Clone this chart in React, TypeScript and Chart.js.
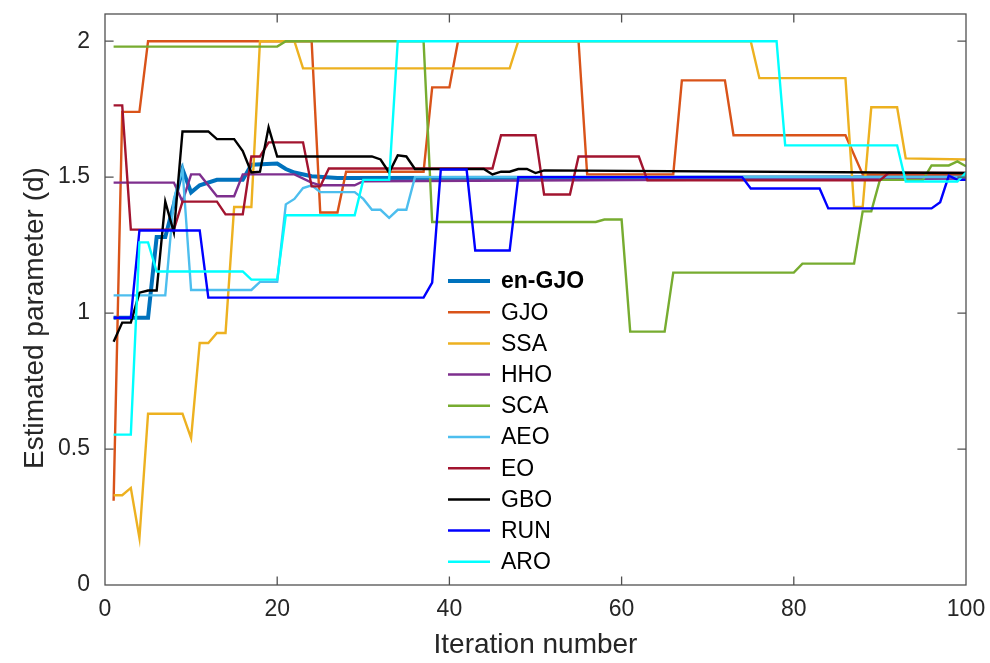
import React, { useEffect, useRef } from "react";
import { Chart, registerables } from "chart.js";

Chart.register(...registerables);

const iterTicks = [0, 20, 40, 60, 80, 100];
const paramTicks = [0, 0.5, 1, 1.5, 2];
const yTitle = "Estimated parameter (d)";
const xTitle = "Iteration number";

const seriesNames = ["en-GJO", "GJO", "SSA", "HHO", "SCA", "AEO", "EO", "GBO", "RUN", "ARO"];
const seriesColors = ["#0072BD", "#D95319", "#EDB120", "#7E2F8E", "#77AC30", "#4DBEEE", "#A2142F", "#000000", "#0000FF", "#00FFFF"];

// vertices (iteration, value) of each convergence curve
const enGjoX = [1, 5, 6, 7, 8, 9, 10, 11, 13, 16, 17, 20, 21, 22, 24, 27, 100];
const enGjoY = [0.983, 0.983, 1.28, 1.28, 1.4, 1.53, 1.444, 1.47, 1.49, 1.49, 1.546, 1.55, 1.53, 1.517, 1.503, 1.497, 1.5];

const gjoX = [1, 2, 4, 5, 24, 25, 27, 28, 37, 38, 40, 41, 55, 56, 66, 67, 72, 73, 86, 88, 100];
const gjoY = [0.31, 1.74, 1.74, 2.0, 2.0, 1.37, 1.37, 1.52, 1.52, 1.83, 1.83, 2.0, 2.0, 1.51, 1.51, 1.856, 1.856, 1.654, 1.654, 1.51, 1.51];

const ssaX = [1, 2, 3, 4, 5, 9, 10, 11, 12, 13, 14, 15, 17, 18, 22, 23, 47, 48, 75, 76, 86, 87, 88, 89, 92, 93, 100];
const ssaY = [0.33, 0.33, 0.357, 0.173, 0.63, 0.63, 0.54, 0.89, 0.89, 0.927, 0.927, 1.39, 1.39, 2.0, 2.0, 1.9, 1.9, 2.0, 2.0, 1.864, 1.864, 1.39, 1.39, 1.757, 1.757, 1.569, 1.565];

const hhoX = [1, 8, 9, 10, 11, 13, 15, 16, 22, 24, 25, 29, 30, 100];
const hhoY = [1.48, 1.48, 1.41, 1.51, 1.51, 1.43, 1.43, 1.51, 1.51, 1.48, 1.47, 1.47, 1.485, 1.495];

const scaX = [1, 20, 21, 37, 38, 57, 58, 60, 61, 65, 66, 80, 81, 87, 88, 89, 90, 95, 96, 98, 99, 100];
const scaY = [1.98, 1.98, 2.0, 2.0, 1.335, 1.335, 1.344, 1.344, 0.932, 0.932, 1.149, 1.149, 1.182, 1.182, 1.374, 1.374, 1.49, 1.49, 1.543, 1.543, 1.558, 1.54];

const aeoX = [1, 7, 8, 9, 10, 17, 18, 20, 21, 22, 23, 24, 25, 29, 30, 31, 32, 33, 34, 35, 36, 100];
const aeoY = [1.065, 1.065, 1.42, 1.53, 1.085, 1.085, 1.115, 1.115, 1.4, 1.42, 1.46, 1.47, 1.445, 1.445, 1.42, 1.38, 1.38, 1.35, 1.38, 1.38, 1.5, 1.5];

const eoX = [1, 2, 3, 8, 9, 13, 14, 16, 17, 18, 19, 23, 24, 25, 26, 45, 46, 50, 51, 54, 55, 62, 63, 90, 91, 100];
const eoY = [1.764, 1.764, 1.307, 1.307, 1.41, 1.41, 1.363, 1.363, 1.576, 1.576, 1.628, 1.628, 1.466, 1.466, 1.532, 1.532, 1.654, 1.654, 1.436, 1.436, 1.576, 1.576, 1.488, 1.488, 1.515, 1.515];

const gboX = [1, 2, 3, 4, 5, 6, 7, 8, 9, 12, 13, 15, 16, 17, 18, 19, 20, 31, 32, 33, 34, 35, 36, 44, 45, 46, 47, 48, 49, 50, 51, 100];
const gboY = [0.895, 0.965, 0.965, 1.075, 1.083, 1.083, 1.41, 1.296, 1.668, 1.668, 1.64, 1.64, 1.596, 1.517, 1.52, 1.683, 1.576, 1.576, 1.565, 1.517, 1.58, 1.576, 1.53, 1.53, 1.51, 1.52, 1.52, 1.53, 1.53, 1.515, 1.525, 1.515];

const runX = [1, 3, 4, 11, 12, 37, 38, 39, 42, 43, 47, 48, 74, 75, 83, 84, 96, 97, 98, 99, 100];
const runY = [0.983, 0.983, 1.304, 1.304, 1.057, 1.057, 1.112, 1.528, 1.528, 1.23, 1.23, 1.5, 1.5, 1.458, 1.458, 1.385, 1.385, 1.408, 1.505, 1.49, 1.49];

const aroX = [1, 3, 4, 5, 6, 16, 17, 20, 21, 29, 30, 33, 34, 78, 79, 92, 93, 99, 100];
const aroY = [0.553, 0.553, 1.26, 1.26, 1.153, 1.153, 1.123, 1.123, 1.36, 1.36, 1.49, 1.49, 2.0, 2.0, 1.617, 1.617, 1.484, 1.484, 1.517];

const seriesX = [enGjoX, gjoX, ssaX, hhoX, scaX, aeoX, eoX, gboX, runX, aroX];
const seriesY = [enGjoY, gjoY, ssaY, hhoY, scaY, aeoY, eoY, gboY, runY, aroY];

const FONT = "'Liberation Sans', Arial, Helvetica, sans-serif";

const boxPlugin = {
  id: "boxPlugin",
  afterDatasetsDraw(chart: any) {
    const { ctx, chartArea } = chart;
    const { left, right, top, bottom } = chartArea;
    const xs = chart.scales.x;
    const ys = chart.scales.y;
    const tl = 8.6;
    ctx.save();
    ctx.strokeStyle = "#505050";
    ctx.lineWidth = 1.3;
    ctx.strokeRect(left, top, right - left, bottom - top);
    ctx.beginPath();
    iterTicks.forEach((v) => {
      const px = xs.getPixelForValue(v);
      if (v !== iterTicks[0] && v !== iterTicks[iterTicks.length - 1]) {
        ctx.moveTo(px, bottom);
        ctx.lineTo(px, bottom - tl);
        ctx.moveTo(px, top);
        ctx.lineTo(px, top + tl);
      }
    });
    paramTicks.forEach((v) => {
      const py = ys.getPixelForValue(v);
      if (v !== paramTicks[0]) {
        ctx.moveTo(left, py);
        ctx.lineTo(left + tl, py);
        ctx.moveTo(right, py);
        ctx.lineTo(right - tl, py);
      }
    });
    ctx.stroke();
    ctx.restore();
  },
  afterDraw(chart: any) {
    const { ctx, chartArea } = chart;
    // y axis title
    ctx.save();
    ctx.translate(chartArea.left - 70, chartArea.top + 304);
    ctx.rotate(-Math.PI / 2);
    ctx.textAlign = "center";
    ctx.textBaseline = "middle";
    ctx.fillStyle = "#262626";
    ctx.font = "28px " + FONT;
    ctx.fillText(yTitle, 0, 0);
    ctx.restore();
    // legend
    const x0 = chartArea.left + 343;
    const x1 = x0 + 42;
    const tx = x1 + 11;
    const y0 = chartArea.top + 267;
    const dy = 31.2;
    ctx.save();
    ctx.textBaseline = "middle";
    ctx.textAlign = "left";
    seriesNames.forEach((name, i) => {
      const y = y0 + i * dy;
      ctx.strokeStyle = seriesColors[i];
      ctx.lineWidth = i === 0 ? 4 : 2.5;
      ctx.beginPath();
      ctx.moveTo(x0, y);
      ctx.lineTo(x1, y);
      ctx.stroke();
      ctx.fillStyle = "#000000";
      ctx.font = (i === 0 ? "bold " : "") + "23px " + FONT;
      ctx.fillText(name, tx, y + 1);
    });
    ctx.restore();
  },
};

export default function App() {
  const ref = useRef<HTMLCanvasElement | null>(null);
  useEffect(() => {
    if (!ref.current) return;
    const datasets = seriesNames.map((name, i) => ({
      label: name,
      data: seriesX[i].map((x, k) => ({ x, y: seriesY[i][k] })),
      borderColor: seriesColors[i],
      backgroundColor: seriesColors[i],
      borderWidth: i === 0 ? 4 : 2.4,
      pointRadius: 0,
      tension: 0,
      fill: false,
      order: seriesNames.length - i,
    }));
    const chart = new Chart(ref.current, {
      type: "line",
      data: { datasets },
      options: {
        animation: false,
        responsive: false,
        maintainAspectRatio: false,
        parsing: false as any,
        layout: { padding: { top: 14, right: 24, left: 0, bottom: 0 } },
        plugins: { legend: { display: false }, tooltip: { enabled: false } },
        scales: {
          x: {
            type: "linear",
            min: 0,
            max: 100,
            afterBuildTicks: (s: any) => {
              s.ticks = iterTicks.map((v) => ({ value: v }));
            },
            afterFit: (s: any) => {
              s.height = 78;
              s.paddingLeft = 0;
              s.paddingRight = 0;
            },
            grid: { display: false, drawTicks: false },
            border: { display: false },
            ticks: {
              color: "#262626",
              font: { family: FONT, size: 23 },
              padding: 11,
              maxRotation: 0,
              callback: (v: any) => String(v),
            },
            title: {
              display: true,
              text: xTitle,
              color: "#262626",
              font: { family: FONT, size: 28 },
              padding: { top: 0, bottom: 1 },
            },
          },
          y: {
            type: "linear",
            min: 0,
            max: 2.1,
            afterBuildTicks: (s: any) => {
              s.ticks = paramTicks.map((v) => ({ value: v }));
            },
            afterFit: (s: any) => {
              s.width = 105;
              s.paddingTop = 0;
              s.paddingBottom = 0;
            },
            grid: { display: false, drawTicks: false },
            border: { display: false },
            ticks: {
              color: "#262626",
              font: { family: FONT, size: 23 },
              padding: 15,
              callback: (v: any) => String(v),
            },
            title: { display: false },
          },
        },
      },
      plugins: [boxPlugin],
    });
    return () => chart.destroy();
  }, []);
  return (
    <div style={{ position: "absolute", left: 0, top: 0, width: 990, height: 663, background: "#fff" }}>
      <canvas ref={ref} width={990} height={663} style={{ display: "block" }} />
    </div>
  );
}
